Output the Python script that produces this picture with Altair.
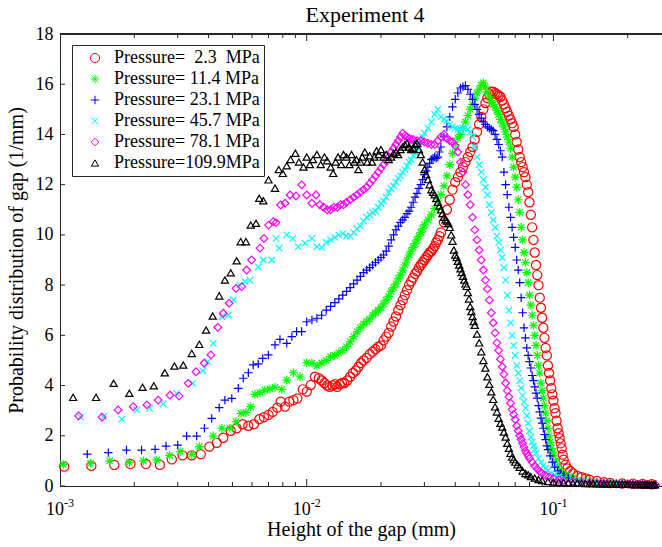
import altair as alt
import pandas as pd

# ---------------- data ----------------
LABELS = [
    "Pressure=\u00a0\u00a02.3\u00a0\u00a0MPa",
    "Pressure=\u00a011.4\u00a0MPa",
    "Pressure=\u00a023.1\u00a0MPa",
    "Pressure=\u00a045.7\u00a0MPa",
    "Pressure=\u00a078.1\u00a0MPa",
    "Pressure=109.9MPa",
]

RED = [
    (0.00104, 0.77), (0.00134, 0.80), (0.00166, 0.84), (0.00193, 0.88), (0.00223, 0.88), (0.00254, 0.84),
    (0.00284, 1.06), (0.00314, 1.22), (0.00342, 1.22), (0.00372, 1.27), (0.00403, 1.57), (0.00432, 1.72),
    (0.00459, 1.92), (0.00492, 2.20), (0.0052, 2.30), (0.0055, 2.46), (0.0058, 2.40), (0.00611, 2.46),
    (0.00643, 2.66), (0.00671, 2.74), (0.007, 2.83), (0.00728, 2.95), (0.0076, 3.12), (0.00784, 3.36),
    (0.00817, 3.16), (0.0085, 3.36), (0.00883, 3.42), (0.00916, 3.49), (0.00964, 3.85), (0.01, 3.76),
    (0.01038, 4.02), (0.0108, 4.35), (0.0112, 4.29),
    (0.0115, 4.2), (0.0118, 4.1), (0.0121, 4.0), (0.0124, 3.95), (0.0127, 4.0), (0.013, 4.05),
    (0.0133, 3.95), (0.0136, 4.05), (0.0139, 4.1), (0.0142, 4.1), (0.0146, 4.2), (0.015, 4.35),
    (0.0154, 4.5), (0.0158, 4.6), (0.0162, 4.75), (0.0166, 4.9), (0.017, 5.0), (0.0175, 5.1),
    (0.018, 5.25), (0.0185, 5.35), (0.019, 5.45), (0.0195, 5.55),
    (0.02, 5.6), (0.0205, 5.8), (0.021, 5.95), (0.0215, 6.1), (0.022, 6.35), (0.0225, 6.55),
    (0.023, 6.75), (0.0235, 7.0), (0.024, 7.2), (0.0245, 7.4), (0.025, 7.6), (0.0255, 7.8),
    (0.026, 8.0), (0.0265, 8.15), (0.027, 8.3), (0.0275, 8.45), (0.028, 8.55), (0.0285, 8.7),
    (0.029, 8.8), (0.0295, 8.9), (0.03, 9.0), (0.0305, 9.1), (0.031, 9.2), (0.0315, 9.3),
    (0.032, 9.35), (0.0325, 9.45), (0.033, 9.55), (0.0335, 9.7), (0.034, 9.8), (0.0345, 9.95),
    (0.035, 10.1), (0.036, 10.5), (0.037, 11.0), (0.038, 11.4), (0.039, 11.8), (0.04, 12.1),
    (0.041, 12.3), (0.042, 12.5), (0.043, 12.7), (0.044, 12.9), (0.045, 13.1), (0.046, 13.3),
    (0.047, 13.5), (0.048, 13.8), (0.049, 14.1), (0.05, 14.4), (0.051, 14.7), (0.052, 15.0),
    (0.053, 15.25), (0.054, 15.45), (0.055, 15.6),
    (0.056, 15.7), (0.057, 15.7), (0.058, 15.65), (0.059, 15.6), (0.06, 15.55), (0.061, 15.5),
    (0.062, 15.35), (0.063, 15.2), (0.064, 15.05), (0.065, 14.9), (0.066, 14.75), (0.067, 14.6),
    (0.068, 14.45), (0.069, 14.3), (0.07, 14.0), (0.071, 13.7), (0.072, 13.4), (0.073, 13.1),
    (0.074, 12.9), (0.075, 12.7), (0.076, 12.5), (0.077, 12.3), (0.078, 12.0), (0.079, 11.7),
    (0.08, 11.3), (0.081, 10.8), (0.082, 10.3), (0.083, 9.8), (0.084, 9.3), (0.085, 8.8),
    (0.086, 8.4), (0.087, 8.0), (0.088, 7.5), (0.089, 7.1), (0.09, 6.7), (0.091, 6.3),
    (0.092, 5.9), (0.093, 5.5), (0.094, 5.2), (0.095, 4.8), (0.096, 4.5), (0.097, 4.2),
    (0.098, 3.9), (0.099, 3.65), (0.1, 3.4), (0.101, 3.1), (0.102, 2.9), (0.103, 2.6),
    (0.104, 2.3), (0.105, 2.1), (0.106, 1.9), (0.107, 1.7), (0.108, 1.5), (0.109, 1.25),
    (0.11, 1.05), (0.112, 0.85), (0.114, 0.7), (0.117, 0.6), (0.12, 0.5), (0.125, 0.4),
    (0.13, 0.35), (0.135, 0.3), (0.14, 0.25), (0.15, 0.2), (0.16, 0.15), (0.17, 0.12),
    (0.19, 0.1), (0.21, 0.09), (0.23, 0.08), (0.25, 0.07),
]

GREEN = [
    (0.00103, 0.86), (0.00133, 0.90), (0.00159, 1.0), (0.00191, 0.94), (0.00218, 1.0), (0.00247, 1.04),
    (0.00278, 1.22), (0.00307, 1.37), (0.00342, 1.26), (0.00367, 1.57), (0.00418, 1.99), (0.00453, 2.30),
    (0.00488, 2.30), (0.00517, 2.56), (0.00542, 2.89), (0.00567, 2.93), (0.00593, 3.16), (0.00617, 3.65),
    (0.00646, 3.72), (0.00677, 3.82), (0.0071, 3.87), (0.00744, 3.93), (0.00792, 3.85), (0.0083, 4.22),
    (0.00883, 4.51), (0.0094, 4.35), (0.01, 4.91), (0.0105, 4.89), (0.011, 4.78),
    (0.0115, 4.9), (0.012, 5.0), (0.0125, 5.15), (0.013, 5.2), (0.0135, 5.3), (0.014, 5.4),
    (0.0145, 5.55), (0.015, 5.75), (0.0155, 5.95), (0.016, 6.15), (0.0165, 6.3), (0.017, 6.45),
    (0.0175, 6.55), (0.018, 6.65), (0.0185, 6.8), (0.019, 6.9), (0.0195, 7.0), (0.02, 7.1),
    (0.0205, 7.25), (0.021, 7.4), (0.0215, 7.55), (0.022, 7.75), (0.0225, 7.9), (0.023, 8.05),
    (0.0235, 8.25), (0.024, 8.4), (0.0245, 8.6), (0.025, 8.8), (0.0255, 9.0), (0.026, 9.2),
    (0.0265, 9.35), (0.027, 9.5), (0.0275, 9.65), (0.028, 9.8), (0.0285, 9.95), (0.029, 10.1),
    (0.0295, 10.25), (0.03, 10.4), (0.031, 10.6), (0.032, 10.8), (0.033, 11.05), (0.034, 11.35),
    (0.035, 11.6), (0.036, 11.95), (0.037, 12.35), (0.038, 12.8), (0.039, 13.25), (0.04, 13.6),
    (0.041, 13.85), (0.042, 14.0), (0.043, 14.25), (0.044, 14.5), (0.045, 14.75), (0.046, 15.0),
    (0.047, 15.2), (0.048, 15.45), (0.049, 15.65), (0.05, 15.8), (0.051, 15.95), (0.052, 16.05),
    (0.053, 15.9), (0.054, 15.7), (0.055, 15.5), (0.056, 15.35), (0.057, 15.2), (0.058, 15.1),
    (0.059, 14.95), (0.06, 14.8), (0.061, 14.6), (0.062, 14.45), (0.063, 14.3), (0.064, 14.1),
    (0.065, 13.9), (0.066, 13.7), (0.067, 13.45), (0.068, 13.1), (0.069, 12.7), (0.07, 12.3),
    (0.071, 11.9), (0.072, 11.4), (0.073, 10.9), (0.074, 10.3), (0.075, 9.8), (0.076, 9.3),
    (0.077, 8.9), (0.078, 8.5), (0.079, 8.1), (0.08, 7.6), (0.081, 7.2), (0.082, 6.8),
    (0.083, 6.4), (0.084, 6.0), (0.085, 5.6), (0.086, 5.2), (0.087, 4.8), (0.088, 4.5),
    (0.089, 4.1), (0.09, 3.8), (0.091, 3.5), (0.092, 3.2), (0.093, 2.9), (0.094, 2.6),
    (0.095, 2.3), (0.096, 2.0), (0.097, 1.75), (0.098, 1.5), (0.099, 1.35), (0.1, 1.2),
    (0.102, 1.0), (0.104, 0.8), (0.106, 0.65), (0.108, 0.55), (0.11, 0.47), (0.115, 0.38),
    (0.12, 0.32), (0.13, 0.24), (0.14, 0.19), (0.15, 0.15), (0.17, 0.12), (0.19, 0.1),
    (0.21, 0.08), (0.23, 0.07), (0.25, 0.06),
]

BLUE = [
    (0.00129, 1.27), (0.00157, 1.33), (0.00186, 1.43), (0.00214, 1.43), (0.00243, 1.46), (0.00269, 1.59),
    (0.003, 1.63), (0.00326, 1.99), (0.00358, 1.99), (0.00385, 2.30), (0.00412, 2.69), (0.00442, 3.12),
    (0.00466, 3.42), (0.00497, 3.49), (0.00528, 3.89), (0.00553, 4.29), (0.0058, 4.51), (0.00607, 4.82),
    (0.00636, 4.86), (0.00663, 5.08), (0.00699, 5.22), (0.00744, 5.62), (0.00779, 5.84), (0.0083, 5.68),
    (0.0087, 5.95), (0.0091, 6.15), (0.00954, 6.15), (0.01, 6.54), (0.0105, 6.61), (0.011, 6.68),
    (0.0115, 6.8), (0.012, 7.0), (0.0125, 7.15), (0.013, 7.3), (0.0135, 7.45), (0.014, 7.6),
    (0.0145, 7.75), (0.015, 7.9), (0.0155, 8.05), (0.016, 8.2), (0.0165, 8.35), (0.017, 8.5),
    (0.0175, 8.6), (0.018, 8.7), (0.0185, 8.8), (0.019, 8.9), (0.0195, 9.0), (0.02, 9.1),
    (0.0205, 9.2), (0.021, 9.35), (0.0215, 9.55), (0.022, 9.8), (0.0225, 10.0), (0.023, 10.2),
    (0.0235, 10.35), (0.024, 10.5), (0.0245, 10.6), (0.025, 10.7), (0.0255, 10.85), (0.026, 10.95),
    (0.0265, 11.1), (0.027, 11.3), (0.0275, 11.5), (0.028, 11.65), (0.0285, 11.85), (0.029, 12.0),
    (0.0295, 12.2), (0.03, 12.4), (0.0305, 12.55), (0.031, 12.7), (0.0315, 12.85), (0.032, 13.0),
    (0.0325, 13.05), (0.033, 13.1), (0.0335, 13.05), (0.034, 13.1), (0.0345, 13.3), (0.035, 13.5),
    (0.036, 13.9), (0.037, 14.3), (0.038, 14.7), (0.039, 15.1), (0.04, 15.4), (0.041, 15.65),
    (0.042, 15.85), (0.043, 15.9), (0.044, 15.95), (0.045, 15.8), (0.046, 15.6), (0.047, 15.4),
    (0.048, 15.2), (0.049, 15.0), (0.05, 14.8), (0.051, 14.65), (0.052, 14.5), (0.053, 14.4),
    (0.054, 14.3), (0.055, 14.25), (0.056, 14.2), (0.057, 14.15), (0.058, 14.0), (0.059, 13.8),
    (0.06, 13.6), (0.061, 13.35), (0.062, 13.1), (0.063, 12.5), (0.064, 12.0), (0.065, 11.6),
    (0.066, 11.1), (0.067, 10.7), (0.068, 10.3), (0.069, 9.9), (0.07, 9.5), (0.071, 9.0),
    (0.072, 8.6), (0.073, 8.1), (0.074, 7.5), (0.075, 6.9), (0.076, 6.3), (0.077, 5.9),
    (0.078, 5.5), (0.079, 5.2), (0.08, 4.95), (0.081, 4.7), (0.082, 4.4), (0.083, 4.2),
    (0.084, 3.95), (0.085, 3.7), (0.086, 3.5), (0.087, 3.2), (0.088, 2.95), (0.089, 2.7),
    (0.09, 2.5), (0.091, 2.3), (0.092, 2.05), (0.093, 1.85), (0.094, 1.6), (0.095, 1.45),
    (0.097, 1.2), (0.099, 0.95), (0.101, 0.75), (0.104, 0.6), (0.107, 0.5), (0.11, 0.42),
    (0.115, 0.33), (0.12, 0.28), (0.13, 0.2), (0.14, 0.16), (0.16, 0.12), (0.18, 0.1),
    (0.2, 0.08), (0.22, 0.07), (0.24, 0.06), (0.26, 0.06),
]

CYAN = [
    (0.00121, 2.74), (0.0015, 2.76), (0.00178, 2.66), (0.00205, 3.03), (0.00231, 3.09), (0.00262, 3.27),
    (0.00297, 3.69), (0.00345, 4.09), (0.00379, 4.59), (0.00397, 4.95), (0.00418, 5.68), (0.00453, 6.74),
    (0.00481, 6.81), (0.00504, 7.41), (0.00536, 8.0), (0.00562, 8.14), (0.00589, 8.2), (0.00636, 8.73),
    (0.00667, 9.0), (0.00721, 9.0), (0.00751, 9.86), (0.00774, 9.47), (0.0083, 10.0), (0.00877, 9.86),
    (0.00924, 9.53), (0.00985, 9.67), (0.0105, 9.86), (0.011, 9.53),
    (0.0115, 9.5), (0.012, 9.7), (0.0125, 9.8), (0.013, 9.9), (0.0135, 10.0), (0.014, 10.05),
    (0.0145, 9.95), (0.015, 9.95), (0.0155, 10.1), (0.016, 10.25), (0.0165, 10.35), (0.017, 10.55),
    (0.0175, 10.7), (0.018, 10.8), (0.0185, 10.9), (0.019, 10.95), (0.0195, 11.1), (0.02, 11.25),
    (0.0205, 11.35), (0.021, 11.5), (0.0215, 11.7), (0.022, 11.85), (0.0225, 11.95), (0.023, 12.1),
    (0.0235, 12.25), (0.024, 12.35), (0.0245, 12.5), (0.025, 12.6), (0.0255, 12.75), (0.026, 12.9),
    (0.0265, 13.0), (0.027, 13.15), (0.0275, 13.3), (0.028, 13.45), (0.0285, 13.6), (0.029, 13.75),
    (0.0295, 13.9), (0.03, 14.05), (0.031, 14.25), (0.032, 14.5), (0.033, 14.8), (0.034, 15.0),
    (0.035, 14.7), (0.036, 14.6), (0.037, 14.55), (0.038, 14.4), (0.039, 14.3), (0.04, 14.25),
    (0.041, 14.2), (0.042, 14.2), (0.043, 14.25), (0.044, 14.3), (0.045, 14.2), (0.046, 14.1),
    (0.047, 13.9), (0.048, 13.5), (0.049, 13.1), (0.05, 12.8), (0.051, 12.5), (0.052, 12.2),
    (0.053, 11.9), (0.054, 11.6), (0.055, 11.2), (0.056, 10.9), (0.057, 10.6), (0.058, 10.3),
    (0.059, 9.95), (0.06, 9.7), (0.061, 9.4), (0.062, 9.1), (0.063, 8.7), (0.064, 8.2),
    (0.065, 7.6), (0.066, 7.0), (0.067, 6.5), (0.068, 6.0), (0.069, 5.6), (0.07, 5.2),
    (0.071, 4.8), (0.072, 4.5), (0.073, 4.2), (0.074, 3.9), (0.075, 3.6), (0.076, 3.35),
    (0.077, 3.1), (0.078, 2.8), (0.079, 2.5), (0.08, 2.2), (0.081, 1.95), (0.082, 1.75),
    (0.083, 1.6), (0.084, 1.45), (0.085, 1.3), (0.087, 1.1), (0.089, 0.95), (0.091, 0.8),
    (0.093, 0.7), (0.095, 0.62), (0.098, 0.5), (0.101, 0.45), (0.105, 0.37), (0.11, 0.3),
    (0.12, 0.22), (0.13, 0.18), (0.15, 0.13), (0.18, 0.1), (0.21, 0.08), (0.24, 0.06),
]

MAGENTA = [
    (0.00119, 2.79), (0.00148, 2.74), (0.00172, 3.03), (0.00198, 3.16), (0.00225, 3.23), (0.0025, 3.42),
    (0.00279, 3.62), (0.00304, 3.58), (0.00331, 4.09), (0.00356, 4.55), (0.00384, 4.89), (0.00409, 5.22),
    (0.00436, 6.32), (0.00459, 6.88), (0.00485, 7.28), (0.00517, 7.87), (0.00545, 7.94), (0.00571, 8.6),
    (0.00598, 9.0), (0.00647, 9.47), (0.00671, 9.86), (0.007, 10.39), (0.00732, 10.53), (0.00751, 10.49),
    (0.00784, 11.19), (0.00817, 11.26), (0.00856, 11.59), (0.00905, 11.55), (0.00954, 11.99), (0.01, 11.59),
    (0.0105, 11.26), (0.0109, 11.59),
    (0.0113, 11.2), (0.0117, 11.1), (0.0121, 11.0), (0.0125, 11.0), (0.0129, 11.1), (0.0133, 11.1),
    (0.0137, 11.2), (0.0141, 11.2), (0.0145, 11.3), (0.015, 11.4), (0.0155, 11.5), (0.016, 11.6),
    (0.0165, 11.7), (0.017, 11.8), (0.0175, 11.9), (0.018, 12.05), (0.0185, 12.2), (0.019, 12.35),
    (0.0195, 12.5), (0.02, 12.65), (0.0205, 12.8), (0.021, 12.95), (0.0215, 13.1), (0.022, 13.3),
    (0.0225, 13.45), (0.023, 13.6), (0.0235, 13.75), (0.024, 13.9), (0.0245, 14.05), (0.025, 13.95),
    (0.0255, 13.9), (0.026, 13.85), (0.0265, 13.8), (0.027, 13.8), (0.028, 13.75), (0.029, 13.75),
    (0.03, 13.7), (0.031, 13.65), (0.032, 13.6), (0.033, 13.6), (0.034, 13.75), (0.035, 13.9),
    (0.036, 14.0), (0.037, 13.85), (0.038, 13.75), (0.039, 13.7), (0.04, 13.55), (0.041, 13.3),
    (0.042, 12.9), (0.043, 12.5), (0.044, 12.0), (0.045, 11.6), (0.046, 11.2), (0.047, 10.7),
    (0.048, 10.2), (0.049, 9.8), (0.05, 9.4), (0.051, 9.0), (0.052, 8.6), (0.053, 8.2),
    (0.054, 7.85), (0.055, 7.4), (0.056, 6.9), (0.057, 6.5), (0.058, 6.1), (0.059, 5.7),
    (0.06, 5.4), (0.061, 5.05), (0.062, 4.75), (0.063, 4.45), (0.064, 4.1), (0.065, 3.8),
    (0.066, 3.55), (0.067, 3.3), (0.068, 3.05), (0.069, 2.85), (0.07, 2.65), (0.071, 2.4),
    (0.072, 2.2), (0.073, 2.0), (0.074, 1.85), (0.075, 1.7), (0.076, 1.55), (0.077, 1.4),
    (0.078, 1.3), (0.079, 1.2), (0.08, 1.1), (0.082, 0.95), (0.084, 0.8), (0.086, 0.68),
    (0.088, 0.58), (0.09, 0.5), (0.093, 0.42), (0.096, 0.36), (0.1, 0.3), (0.105, 0.25),
    (0.11, 0.22), (0.12, 0.18), (0.13, 0.15), (0.14, 0.13), (0.15, 0.12), (0.16, 0.11),
    (0.17, 0.1), (0.18, 0.09), (0.19, 0.08), (0.2, 0.08), (0.21, 0.07), (0.22, 0.07),
    (0.23, 0.06), (0.24, 0.06), (0.25, 0.05), (0.26, 0.05),
]

BLACK = [
    (0.00113, 3.53), (0.0014, 3.53), (0.00165, 4.09), (0.00191, 3.69), (0.00216, 3.93), (0.0024, 3.99),
    (0.00266, 4.51), (0.00291, 4.78), (0.00316, 4.82), (0.00342, 5.28), (0.00367, 5.64), (0.00391, 6.21),
    (0.00416, 6.77), (0.00442, 7.57), (0.00466, 8.2), (0.00492, 8.49), (0.0052, 8.97), (0.0054, 9.73),
    (0.00567, 9.73), (0.00593, 10.39), (0.00623, 10.46), (0.00642, 11.46), (0.00667, 11.36), (0.007, 12.19),
    (0.00744, 11.86),
    (0.0077, 12.6), (0.008, 12.45), (0.0083, 12.75), (0.0086, 13.0), (0.009, 13.25), (0.0093, 12.9),
    (0.0097, 12.7), (0.01, 13.1), (0.0103, 12.8), (0.0106, 13.0), (0.011, 13.2), (0.0114, 12.8),
    (0.0118, 13.1), (0.0121, 12.95), (0.0125, 12.7), (0.0128, 12.45), (0.0131, 12.9), (0.0134, 13.1),
    (0.0138, 12.8), (0.0141, 13.2), (0.0145, 13.1), (0.0149, 12.8), (0.0152, 13.2), (0.0156, 12.9),
    (0.0159, 13.0), (0.0162, 12.6), (0.0165, 12.9), (0.0168, 13.1), (0.0172, 13.3), (0.0176, 12.9),
    (0.018, 13.15), (0.0184, 12.9), (0.0188, 13.1), (0.0192, 13.35), (0.0196, 13.2), (0.02, 13.4),
    (0.0205, 13.1), (0.021, 13.2), (0.0215, 13.0), (0.022, 13.1), (0.0225, 13.25), (0.023, 13.3),
    (0.0235, 13.2), (0.024, 13.4), (0.0245, 13.5), (0.025, 13.6), (0.0255, 13.65), (0.026, 13.5),
    (0.0265, 13.4), (0.027, 13.45), (0.0275, 13.6), (0.028, 13.65), (0.0285, 13.4), (0.029, 13.2),
    (0.0295, 12.9), (0.03, 12.6), (0.0305, 12.4), (0.031, 12.2), (0.0315, 12.0), (0.032, 11.8),
    (0.0325, 11.7), (0.033, 11.6), (0.0335, 11.45), (0.034, 11.3), (0.0345, 11.15), (0.035, 11.0),
    (0.0355, 10.85), (0.036, 10.7), (0.0365, 10.6), (0.037, 10.55), (0.0375, 10.45), (0.038, 10.3),
    (0.0385, 10.0), (0.039, 9.75), (0.0395, 9.4), (0.04, 9.2), (0.0405, 9.1), (0.041, 8.95),
    (0.0415, 8.8), (0.042, 8.65), (0.0425, 8.5), (0.043, 8.35), (0.0435, 8.2), (0.044, 8.05),
    (0.0445, 7.95), (0.045, 7.7), (0.0455, 7.45), (0.046, 7.15), (0.0465, 6.95), (0.047, 6.75),
    (0.0475, 6.55), (0.048, 6.4), (0.049, 6.05), (0.05, 5.7), (0.051, 5.35), (0.052, 5.0),
    (0.053, 4.7), (0.054, 4.35), (0.055, 4.05), (0.056, 3.75), (0.057, 3.45), (0.058, 3.15),
    (0.059, 2.95), (0.06, 2.7), (0.061, 2.5), (0.062, 2.35), (0.063, 2.15), (0.064, 1.95),
    (0.065, 1.7), (0.066, 1.5), (0.067, 1.3), (0.068, 1.15), (0.069, 1.05), (0.07, 0.95),
    (0.0715, 0.85), (0.073, 0.75), (0.075, 0.6), (0.077, 0.5), (0.079, 0.45), (0.081, 0.38),
    (0.084, 0.32), (0.087, 0.26), (0.09, 0.22), (0.095, 0.18), (0.1, 0.16), (0.105, 0.15),
    (0.11, 0.14), (0.115, 0.13), (0.12, 0.12), (0.125, 0.12), (0.13, 0.11), (0.135, 0.1),
    (0.14, 0.1), (0.145, 0.1), (0.15, 0.09), (0.155, 0.09), (0.16, 0.09), (0.165, 0.08),
    (0.17, 0.08), (0.175, 0.08), (0.18, 0.08), (0.185, 0.07), (0.19, 0.07), (0.195, 0.07),
    (0.2, 0.07), (0.205, 0.07), (0.21, 0.06), (0.215, 0.06), (0.22, 0.06), (0.225, 0.06),
    (0.23, 0.06), (0.235, 0.06), (0.24, 0.05), (0.245, 0.05), (0.25, 0.05), (0.255, 0.05),
    (0.258, 0.05),
]

SERIES = [RED, GREEN, BLUE, CYAN, MAGENTA, BLACK]

Y_TICKS = [0, 2, 4, 6, 8, 10, 12, 14, 16, 18]
X_DECADES = [0.001, 0.01, 0.1]
X_EXPONENTS = ["-3", "-2", "-1"]
X_MAJOR = [0.01, 0.1]
X_MINOR = [0.002, 0.003, 0.004, 0.005, 0.006, 0.007, 0.008, 0.009,
           0.02, 0.03, 0.04, 0.05, 0.06, 0.07, 0.08, 0.09, 0.2]

# ---------------- styling ----------------
FONT = "Liberation Serif"
AX = "#262626"
COLORS = ["#ff0000", "#00ff00", "#0000ff", "#00ffff", "#ff00ff", "#000000"]
ASTERISK = "M-1,0L1,0M0,-1L0,1M-0.72,-0.72L0.72,0.72M-0.72,0.72L0.72,-0.72"
PLUS = "M-1,0L1,0M0,-1L0,1"
XMARK = "M-0.8,-0.8L0.8,0.8M-0.8,0.8L0.8,-0.8"
SHAPES = ["circle", ASTERISK, PLUS, XMARK, "diamond", "triangle-up"]
SIZES = [84, 52, 68, 62, 84, 96]

W, H = 602, 452
XS = alt.Scale(type="log", domain=[0.001, 0.2755], nice=False)
YS = alt.Scale(domain=[0, 18], nice=False, zero=False)

X_AXIS = alt.Axis(
    labels=False, ticks=False, grid=False, domainColor=AX, domainWidth=1,
    title="Height of the gap (mm)", titleFont=FONT, titleFontSize=20,
    titleFontWeight="normal", titleColor="#000000", titlePadding=33)
Y_AXIS = alt.Axis(
    values=Y_TICKS, ticks=False, grid=False, labelFlush=False,
    labelFont=FONT, labelFontSize=18, labelColor="#000000", labelPadding=7,
    domainColor=AX, domainWidth=1,
    title="Probability distribution of gap (1/mm)", titleFont=FONT, titleFontSize=20,
    titleFontWeight="normal", titleColor="#000000", titlePadding=9)

rows = []
for i, pts in enumerate(SERIES):
    for j, (xv, yv) in enumerate(pts):
        rows.append({"x": xv, "y": yv, "series": LABELS[i], "k": i * 10000 + j})
df = pd.DataFrame(rows)

legend = alt.Legend(
    title=None, orient="none", legendX=12, legendY=11,
    strokeColor=AX, fillColor="white", padding=4,
    symbolOffset=10, labelOffset=10, rowPadding=3,
    labelFont=FONT, labelFontSize=18, labelColor="#000000",
    symbolSize=60, symbolStrokeWidth=1, symbolOpacity=1,
)

points = alt.Chart(df).mark_point(filled=False, strokeWidth=1.2, opacity=1).encode(
    x=alt.X("x:Q", scale=XS, axis=X_AXIS),
    y=alt.Y("y:Q", scale=YS, axis=Y_AXIS),
    color=alt.Color("series:N", scale=alt.Scale(domain=LABELS, range=COLORS), legend=legend),
    shape=alt.Shape("series:N", scale=alt.Scale(domain=LABELS, range=SHAPES), legend=legend),
    size=alt.Size("series:N", scale=alt.Scale(domain=LABELS, range=SIZES), legend=None),
    order=alt.Order("k:Q"),
)

minor_df = pd.DataFrame({"x": X_MINOR})
major_df = pd.DataFrame({"x": X_MAJOR})
ytick_df = pd.DataFrame({"y": Y_TICKS})
dec_df = pd.DataFrame({"x": X_DECADES, "base": ["10"] * len(X_DECADES), "exp": X_EXPONENTS})

def xticks(data, length):
    bottom = alt.Chart(data).mark_rule(color=AX, strokeWidth=1).encode(
        x=alt.X("x:Q", scale=XS, axis=X_AXIS), y=alt.value(H), y2=alt.value(H - length))
    top = alt.Chart(data).mark_rule(color=AX, strokeWidth=1).encode(
        x=alt.X("x:Q", scale=XS, axis=X_AXIS), y=alt.value(0), y2=alt.value(length))
    return bottom + top

yticks = alt.Chart(ytick_df).mark_rule(color=AX, strokeWidth=1).encode(
    y=alt.Y("y:Q", scale=YS, axis=Y_AXIS), x=alt.value(0), x2=alt.value(5))

top_line = alt.Chart(ytick_df).mark_rule(color=AX, strokeWidth=1).encode(
    x=alt.value(0), x2=alt.value(W), y=alt.value(0))

base_lbl = alt.Chart(dec_df).mark_text(
    align="right", baseline="alphabetic", dx=4, font=FONT, fontSize=18, color="#000000").encode(
    x=alt.X("x:Q", scale=XS, axis=X_AXIS), y=alt.value(481), text="base:N")
exp_lbl = alt.Chart(dec_df).mark_text(
    align="left", baseline="alphabetic", dx=4, font=FONT, fontSize=12, color="#000000").encode(
    x=alt.X("x:Q", scale=XS, axis=X_AXIS), y=alt.value(473), text="exp:N")

chart = alt.layer(
    points, xticks(minor_df, 4), xticks(major_df, 7), yticks, top_line, base_lbl, exp_lbl
).properties(
    width=W, height=H,
    title=alt.Title("Experiment 4", font=FONT, fontSize=22, fontWeight="normal",
                    color="#000000", anchor="middle", offset=5, dx=4, dy=7),
    autosize=alt.AutoSizeParams(type="none"),
    padding={"left": 60, "top": 34, "right": 0, "bottom": 61},
).configure_view(strokeWidth=0).configure(background="white")

chart.save("out.html", embed_options={"renderer": "svg", "actions": False})
